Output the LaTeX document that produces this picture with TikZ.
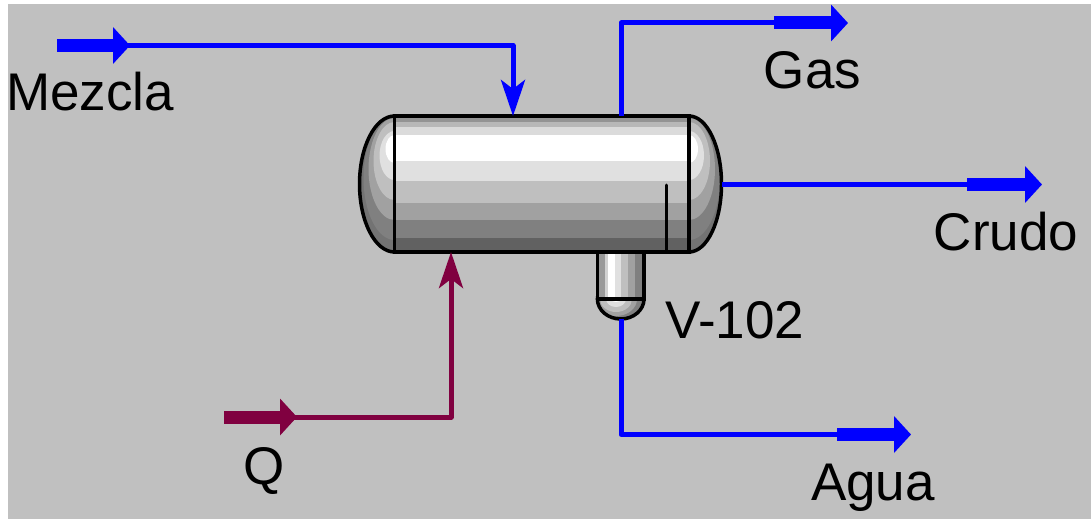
\documentclass[tikz,border=0pt]{standalone}
\usepackage{fontspec}
\setmainfont{Liberation Sans}
\usetikzlibrary{arrows.meta}

\definecolor{bggray}{HTML}{C0C0C0}
\definecolor{streamblue}{HTML}{0000FF}
\definecolor{heatred}{HTML}{800040}

\tikzset{
  tag/.style={inner sep=0pt, anchor=base, text=black, font=\fontsize{53}{60}\selectfont},
  stream/.style={line width=5pt, line join=round, -{Stealth[length=36pt,width=24pt,inset=9pt]}},
  outline/.style={draw=black, line width=3.5pt},
  stub/.style={line width=13pt, -{Triangle[length=17pt,width=36pt]}},
}

\begin{document}
\begin{tikzpicture}
  [x=1pt,y=-1pt]
  \useasboundingbox (0,0) rectangle (1091,519);
  \fill[bggray] (8,4) rectangle (1091,519);

  % vessel heads
  \foreach \ox/\rh in {394.5/35,689/32.5} {
    \begin{scope}
      \clip (\ox,184) ellipse [x radius=\rh, y radius=68];
      \fill[black!55] (\ox,184) ellipse [x radius=\rh, y radius=68];
      \foreach \col/\cy/\rx/\ry in {black!50/178/31/62, black!37/169/26/51, black!25/161/21/39, black!12/155.5/15/24.5, white/149/9/14}
        \fill[\col] (\ox,\cy) ellipse [x radius=\rx, y radius=\ry];
    \end{scope}
    \draw[outline] (\ox,184) ellipse [x radius=\rh, y radius=68];
  }

  % boot
  \begin{scope}
    \clip (620.7,299) ellipse [x radius=23.3, y radius=20];
    \fill[black!50] (597,299) rectangle (644,320);
    \foreach \col/\rx/\ry in {black!37/21/17, black!25/16/13, black!12/10/8, white/5/3}
      \fill[\col] (616,299) ellipse [x radius=\rx, y radius=\ry];
  \end{scope}
  \draw[outline] (620.7,299) ellipse [x radius=23.3, y radius=20];
  \foreach \col/\xa/\xb in {black!40/597/605, black!18/605/608, white/608/615, black!12/615/621, black!25/621/628, black!37/628/635, black!50/635/644}
    \fill[\col] (\xa,252) rectangle (\xb,299);
  \draw[outline] (597.3,252) rectangle (644,299);

  % vessel body
  \foreach \col/\ya/\yb in {black!42/116/122, black!28/122/127, black!14/127/135, white/135/161, black!12/161/181, black!25/181/203, black!37/203/220, black!50/220/238, black!62/238/252}
    \fill[\col] (394.5,\ya) rectangle (689,\yb);
  \node[outline, inner sep=0pt, minimum width=294.5pt, minimum height=136pt] (v102) at (541.75,184) {};
  \draw[line width=3pt, line cap=round] (666.7,185) -- (666.7,252);

  \coordinate (m1) at (57,45.5);
  \coordinate (m2) at (113,45.5);
  \coordinate (m3) at (130,45.5);
  \coordinate (m4) at (513,116);
  \coordinate (q1) at (224,417);
  \coordinate (q2) at (280,417);
  \coordinate (q3) at (297,417);
  \coordinate (q4) at (451,252);
  \coordinate (g1) at (621,116);
  \coordinate (g2) at (774,23);
  \coordinate (g3) at (848,23);
  \coordinate (c1) at (722,184.5);
  \coordinate (c2) at (967,184.5);
  \coordinate (c3) at (1042,184.5);
  \coordinate (a1) at (621,319);
  \coordinate (a2) at (837,434.5);
  \coordinate (a3) at (911,434.5);

  \draw[stream, streamblue] (m2) -| (m4);
  \draw[stream, heatred] (q2) -| (q4);
  \draw[line width=5pt, line join=round, streamblue] (g1) |- (g2);
  \draw[line width=5pt, streamblue] (c1) -- (c2);
  \draw[line width=5pt, line join=round, streamblue] (a1) |- (a2);

  \foreach \from/\to in {m1/m3,g2/g3,c2/c3,a2/a3}
    \draw[stub, streamblue] (\from) -- (\to);
  \draw[stub, heatred] (q1) -- (q3);

  \node[tag] (mezcla) at (90,110) {Mezcla};
  \node[tag] (gas) at (812.5,88) {Gas};
  \node[tag] (crudo) at (1006,250) {Crudo};
  \node[tag] (v102tag) at (735,338) {V-102};
  \node[tag] (agua) at (873,500) {Agua};
  \node[tag] (q) at (264,484) {Q};
\end{tikzpicture}
\end{document}
